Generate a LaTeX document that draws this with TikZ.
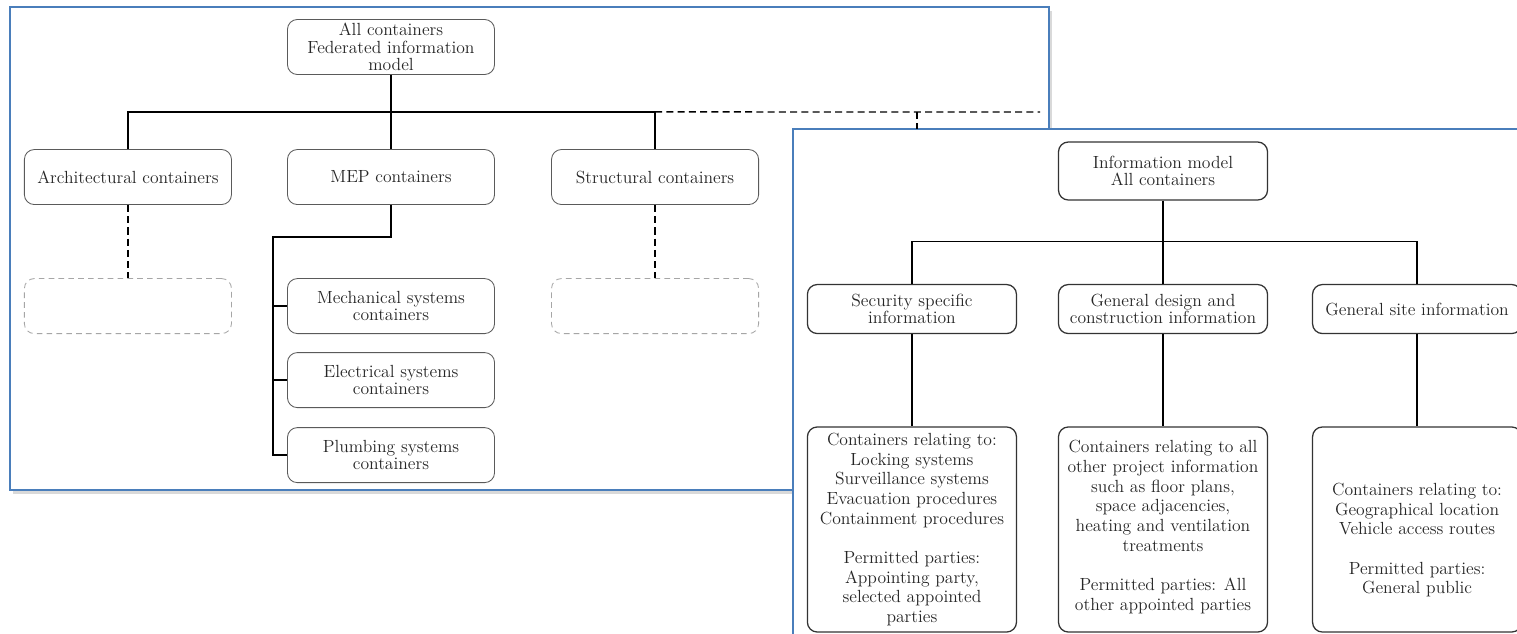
\documentclass[tikz,border=0pt]{standalone}
\usetikzlibrary{shadows}
\definecolor{panelblue}{RGB}{74,126,187}
\definecolor{boxgray}{RGB}{90,90,90}

\begin{document}
\begin{tikzpicture}[x=0.025cm,y=-0.025cm,line width=1pt,
  node font=\fontsize{12.5}{12.5}\selectfont,
  panel/.style={draw=panelblue,line width=1.2pt,fill=white},
  lbox/.style={draw=boxgray,line width=0.6pt,rounded corners=7pt,fill=white,align=center,
    inner sep=2pt,minimum width=5.175cm,minimum height=1.375cm,text=black!85},
  blank/.style={lbox,draw=gray!70,dash pattern=on 4pt off 3pt},
  rbox/.style={lbox,draw=black!80,line width=0.9pt,minimum width=5.225cm,minimum height=1.225cm},
  rlow/.style={rbox,minimum height=5.125cm,font=\fontsize{12.5}{14}\selectfont},
  link/.style={dash pattern=on 5pt off 3pt}]

  \useasboundingbox (0,0) rectangle (1517,633);
  \clip (0,0) rectangle (1517,633);

  % federated model
  \draw[panel,drop shadow={opacity=.3,shadow xshift=2pt,shadow yshift=-3pt}] (10,7) rectangle (1049,490);

  \node[lbox] (fed) at (391,47) {All containers\\Federated information\\model};
  \node[lbox] (mep) [below of=fed, node distance=3.25cm] {MEP containers};
  \node[lbox] (arch) [left of=mep, node distance=6.575cm] {Architectural containers};
  \node[lbox] (struct) [right of=mep, node distance=6.6cm] {Structural containers};
  \node[blank] (archsub) [below of=arch, node distance=3.225cm] {};
  \node[blank] (structsub) [below of=struct, node distance=3.225cm] {};
  \node[lbox] (mech) [below of=mep, node distance=3.225cm] {Mechanical systems\\containers};
  \node[lbox] (elec) [below of=mech, node distance=1.85cm] {Electrical systems\\containers};
  \node[lbox] (plumb) [below of=elec, node distance=1.875cm] {Plumbing systems\\containers};

  \draw (fed.south) -- ++(0,37) coordinate (fedbus);
  \draw (fedbus) -| (arch);
  \draw (fedbus) -| (struct);
  \draw (fedbus) -- (mep);
  \draw[link] (arch) -- (archsub);
  \draw[link] (struct) -- (structsub);

  \coordinate (mepbus) at (273,237);
  \draw (mep) |- (mepbus) |- (plumb);
  \draw (mepbus |- mech) -- (mech);
  \draw (mepbus |- elec) -- (elec);

  % link to the security model
  \coordinate (dashend) at (1040,112);
  \coordinate (dashdrop) at (917,112);
  \draw[link] (struct |- fedbus) -- (dashend);

  % security model
  \draw[panel] (793,129) coordinate (rtop) rectangle (1530,650);
  \draw[link] (dashdrop) -- (dashdrop |- rtop);

  \node[rbox,minimum height=1.45cm] (info) at (1163,171) {Information model\\All containers};
  \node[rbox] (gen) [below of=info, node distance=3.45cm] {General design and\\construction information};
  \node[rbox] (sec) [left of=gen, node distance=6.275cm] {Security specific\\information};
  \node[rbox] (site) [right of=gen, node distance=6.35cm] {General site information};

  \node[rlow] (seclist) [below of=sec, node distance=5.51cm]
    {Containers relating to:\\Locking systems\\Surveillance systems\\Evacuation procedures\\Containment procedures\\[14pt]
     Permitted parties:\\Appointing party,\\selected appointed\\parties};
  \node[rlow] (genlist) [below of=gen, node distance=5.51cm]
    {Containers relating to all\\other project information\\such as floor plans,\\space adjacencies,\\heating and ventilation\\treatments\\[14pt]
     Permitted parties: All\\other appointed parties\\[-8pt]\mbox{}};
  \node[rlow] (sitelist) [below of=site, node distance=5.51cm]
    {\mbox{}\\[10pt]Containers relating to:\\Geographical location\\Vehicle access routes\\[14pt]
     Permitted parties:\\General public};

  \draw (info.south) -- ++(0,41) coordinate (infobus);
  \draw (infobus) -| (sec);
  \draw (infobus) -| (site);
  \draw (infobus) -- (gen);
  \draw (sec) -- (seclist);
  \draw (gen) -- (genlist);
  \draw (site) -- (sitelist);
\end{tikzpicture}
\end{document}
